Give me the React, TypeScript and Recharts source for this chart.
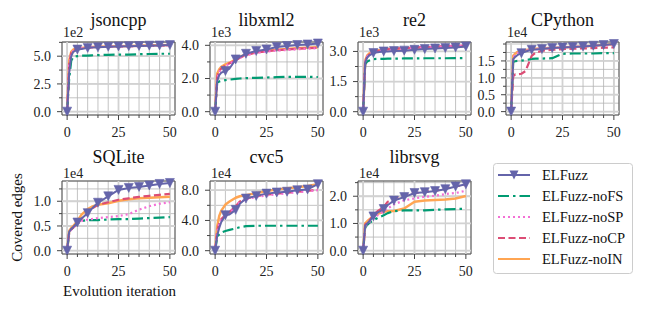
import React from 'react';
import { LineChart, Line, XAxis, YAxis, CartesianGrid, ReferenceLine, ReferenceArea } from 'recharts';

const FONT = '"Liberation Serif", "DejaVu Serif", serif';

// iterations sampled from the curves (0..50)
const iterations = [0, 1, 2, 3, 5, 7, 10, 12, 15, 20, 25, 30, 35, 40, 45, 50];

// jsoncpp (x1e2)
const jsoncppELFuzz = [0, 3.5, 5.0, 5.4, 5.6, 5.65, 5.75, 5.78, 5.8, 5.85, 5.88, 5.9, 5.92, 5.95, 5.97, 6.0];
const jsoncppNoFS = [0, 3.0, 4.6, 4.95, 5.0, 5.05, 5.05, 5.08, 5.1, 5.12, 5.15, 5.15, 5.18, 5.2, 5.22, 5.22];
const jsoncppNoSP = [0, 4.2, 5.2, 5.5, 5.65, 5.7, 5.78, 5.8, 5.82, 5.85, 5.88, 5.9, 5.92, 5.93, 5.95, 5.97];
const jsoncppNoCP = [0, 4.3, 5.3, 5.5, 5.65, 5.72, 5.78, 5.8, 5.82, 5.85, 5.88, 5.9, 5.92, 5.94, 5.96, 5.98];
const jsoncppNoIN = [0, 4.6, 5.4, 5.6, 5.7, 5.75, 5.8, 5.82, 5.85, 5.88, 5.9, 5.92, 5.94, 5.96, 5.98, 6.0];

// libxml2 (x1e3)
const libxml2ELFuzz = [0, 1.85, 2.2, 2.35, 2.45, 2.6, 3.15, 3.3, 3.49, 3.66, 3.75, 3.9, 3.96, 4.02, 4.05, 4.11];
const libxml2NoFS = [0, 1.75, 1.82, 1.86, 1.9, 1.93, 1.98, 2.0, 2.02, 2.04, 2.06, 2.08, 2.1, 2.1, 2.1, 2.09];
const libxml2NoSP = [0, 2.0, 2.4, 2.55, 2.75, 2.9, 3.1, 3.25, 3.4, 3.55, 3.62, 3.68, 3.72, 3.76, 3.8, 3.83];
const libxml2NoCP = [0, 2.1, 2.45, 2.6, 2.8, 2.92, 3.1, 3.25, 3.42, 3.56, 3.64, 3.7, 3.75, 3.79, 3.82, 3.85];
const libxml2NoIN = [0, 2.3, 2.55, 2.7, 2.85, 2.95, 3.15, 3.3, 3.45, 3.6, 3.68, 3.74, 3.78, 3.82, 3.85, 3.88];

// re2 (x1e3)
const re2ELFuzz = [0, 2.45, 2.7, 2.8, 2.92, 2.96, 3.0, 3.0, 3.02, 3.04, 3.08, 3.12, 3.15, 3.17, 3.2, 3.25];
const re2NoFS = [0, 2.35, 2.5, 2.55, 2.62, 2.63, 2.63, 2.64, 2.64, 2.65, 2.65, 2.66, 2.66, 2.66, 2.67, 2.67];
const re2NoSP = [0, 2.5, 2.75, 2.85, 2.98, 3.03, 3.08, 3.1, 3.12, 3.15, 3.18, 3.2, 3.22, 3.24, 3.26, 3.28];
const re2NoCP = [0, 2.5, 2.75, 2.85, 2.97, 3.02, 3.08, 3.1, 3.13, 3.16, 3.19, 3.22, 3.24, 3.26, 3.28, 3.3];
const re2NoIN = [0, 2.55, 2.8, 2.9, 3.0, 3.05, 3.1, 3.12, 3.14, 3.16, 3.18, 3.2, 3.22, 3.24, 3.25, 3.27];

// CPython (x1e4)
const cpythonELFuzz = [0, 1.55, 1.62, 1.67, 1.73, 1.78, 1.83, 1.84, 1.85, 1.88, 1.9, 1.91, 1.93, 1.95, 1.97, 2.0];
const cpythonNoFS = [0, 1.47, 1.49, 1.5, 1.51, 1.52, 1.56, 1.57, 1.57, 1.58, 1.71, 1.72, 1.72, 1.72, 1.73, 1.73];
const cpythonNoSP = [0, 1.6, 1.68, 1.73, 1.78, 1.8, 1.84, 1.85, 1.86, 1.88, 1.9, 1.91, 1.93, 1.95, 1.96, 1.98];
const cpythonNoCP = [0, 1.05, 1.1, 1.1, 1.12, 1.2, 1.65, 1.75, 1.8, 1.83, 1.85, 1.86, 1.87, 1.88, 1.89, 1.9];
const cpythonNoIN = [0, 1.65, 1.72, 1.76, 1.8, 1.82, 1.85, 1.86, 1.87, 1.89, 1.9, 1.92, 1.93, 1.95, 1.97, 1.99];

// SQLite (x1e4)
const sqliteELFuzz = [0, 0.38, 0.44, 0.48, 0.57, 0.65, 0.76, 0.85, 0.97, 1.1, 1.23, 1.27, 1.29, 1.32, 1.35, 1.37];
const sqliteNoFS = [0, 0.37, 0.43, 0.47, 0.55, 0.6, 0.62, 0.62, 0.62, 0.63, 0.64, 0.64, 0.65, 0.66, 0.67, 0.68];
const sqliteNoSP = [0, 0.37, 0.43, 0.47, 0.55, 0.6, 0.63, 0.64, 0.66, 0.68, 0.7, 0.74, 0.83, 0.9, 0.95, 0.98];
const sqliteNoCP = [0, 0.38, 0.43, 0.47, 0.55, 0.64, 0.76, 0.85, 0.93, 0.98, 1.03, 1.06, 1.09, 1.11, 1.13, 1.15];
const sqliteNoIN = [0, 0.4, 0.46, 0.5, 0.6, 0.73, 0.84, 0.89, 0.93, 0.96, 1.01, 1.04, 1.06, 1.07, 1.08, 1.09];

// cvc5 (x1e4)
const cvc5ELFuzz = [0, 2.0, 3.0, 3.8, 4.7, 4.8, 5.4, 6.2, 6.9, 7.25, 7.55, 7.7, 7.8, 8.0, 8.1, 8.8];
const cvc5NoFS = [0, 1.8, 2.2, 2.4, 2.6, 2.75, 2.95, 3.1, 3.25, 3.3, 3.3, 3.3, 3.3, 3.3, 3.3, 3.3];
const cvc5NoSP = [0, 2.5, 3.5, 4.1, 4.6, 5.0, 5.8, 6.4, 6.8, 7.1, 7.3, 7.45, 7.6, 7.75, 7.85, 8.0];
const cvc5NoCP = [0, 2.6, 3.6, 4.2, 4.7, 5.1, 5.9, 6.5, 6.9, 7.2, 7.4, 7.55, 7.65, 7.8, 7.9, 8.1];
const cvc5NoIN = [0, 3.2, 4.6, 5.3, 6.1, 6.5, 7.0, 7.2, 7.35, 7.6, 7.9, 8.1, 8.25, 8.4, 8.55, 8.78];

// librsvg (x1e4)
const librsvgELFuzz = [0, 0.92, 1.0, 1.08, 1.26, 1.4, 1.53, 1.68, 1.84, 1.97, 2.12, 2.15, 2.19, 2.26, 2.36, 2.44];
const librsvgNoFS = [0, 0.85, 0.95, 1.02, 1.12, 1.2, 1.3, 1.38, 1.45, 1.48, 1.48, 1.48, 1.5, 1.52, 1.53, 1.54];
const librsvgNoSP = [0, 0.9, 0.98, 1.05, 1.2, 1.3, 1.45, 1.55, 1.7, 1.85, 1.92, 1.98, 2.02, 2.08, 2.12, 2.2];
const librsvgNoCP = [0, 0.95, 1.03, 1.1, 1.3, 1.45, 1.6, 1.8, 1.9, 2.05, 2.12, 2.16, 2.2, 2.28, 2.36, 2.42];
const librsvgNoIN = [0, 1.0, 1.08, 1.15, 1.28, 1.35, 1.43, 1.45, 1.46, 1.55, 1.8, 1.84, 1.86, 1.88, 1.92, 2.01];

const PURPLE = '#6464AA';

// draw order: bottom -> top
const seriesStyles = [
  { key: 'noIN', color: '#FFA552', width: 2.5, dash: undefined as string | undefined },
  { key: 'noFS', color: '#009B72', width: 2.2, dash: '11 4 2.5 4' },
  { key: 'noCP', color: '#DC4D75', width: 2.2, dash: '7 3.5' },
  { key: 'noSP', color: '#F46FD6', width: 2.2, dash: '2 3' },
  { key: 'ELFuzz', color: PURPLE, width: 2, dash: undefined as string | undefined },
];

const legendItems = [
  { key: 'ELFuzz', label: 'ELFuzz' },
  { key: 'noFS', label: 'ELFuzz-noFS' },
  { key: 'noSP', label: 'ELFuzz-noSP' },
  { key: 'noCP', label: 'ELFuzz-noCP' },
  { key: 'noIN', label: 'ELFuzz-noIN' },
];

const xTicks = [0, 5, 10, 15, 20, 25, 30, 35, 40, 45, 50];
const xMajor = [0, 25, 50];

const PW = 113;
const PH = 73;
const TOP_PAD = 10;

type Panel = {
  name: string;
  exp: string;
  left: number;
  top: number;
  domain: [number, number];
  major: number[];
  minor: number[];
  s: number[][]; // ELFuzz, noFS, noSP, noCP, noIN
};

const panels: Panel[] = [
  { name: 'jsoncpp', exp: '1e2', left: 62, top: 42, domain: [-0.3, 6.28], major: [0, 2.5, 5], minor: [0, 1.25, 2.5, 3.75, 5, 6.25],
    s: [jsoncppELFuzz, jsoncppNoFS, jsoncppNoSP, jsoncppNoCP, jsoncppNoIN] },
  { name: 'libxml2', exp: '1e3', left: 210, top: 42, domain: [-0.2, 4.2], major: [0, 2, 4], minor: [0, 1, 2, 3, 4],
    s: [libxml2ELFuzz, libxml2NoFS, libxml2NoSP, libxml2NoCP, libxml2NoIN] },
  { name: 're2', exp: '1e3', left: 358, top: 42, domain: [-0.165, 3.47], major: [0, 1.5, 3], minor: [0, 0.75, 1.5, 2.25, 3],
    s: [re2ELFuzz, re2NoFS, re2NoSP, re2NoCP, re2NoIN] },
  { name: 'CPython', exp: '1e4', left: 506, top: 42, domain: [-0.1, 2.06], major: [0, 0.5, 1, 1.5], minor: [0, 0.25, 0.5, 0.75, 1, 1.25, 1.5, 1.75, 2],
    s: [cpythonELFuzz, cpythonNoFS, cpythonNoSP, cpythonNoCP, cpythonNoIN] },
  { name: 'SQLite', exp: '1e4', left: 62, top: 181, domain: [-0.067, 1.41], major: [0, 0.5, 1], minor: [0, 0.25, 0.5, 0.75, 1, 1.25],
    s: [sqliteELFuzz, sqliteNoFS, sqliteNoSP, sqliteNoCP, sqliteNoIN] },
  { name: 'cvc5', exp: '1e4', left: 210, top: 181, domain: [-0.44, 9.22], major: [0, 4, 8], minor: [0, 2, 4, 6, 8],
    s: [cvc5ELFuzz, cvc5NoFS, cvc5NoSP, cvc5NoCP, cvc5NoIN] },
  { name: 'librsvg', exp: '1e4', left: 358, top: 181, domain: [-0.122, 2.56], major: [0, 1, 2], minor: [0, 0.5, 1, 1.5, 2, 2.5],
    s: [librsvgELFuzz, librsvgNoFS, librsvgNoSP, librsvgNoCP, librsvgNoIN] },
];

const isIn = (arr: number[], v: number) => arr.some((m) => Math.abs(m - v) < 1e-9);

const textStyle = { fontFamily: FONT };

const YTick = (p: any) => {
  const { x, y, payload, major } = p;
  const major_ = isIn(major, payload.value);
  const x0 = x + 11;
  return (
    <g>
      <line x1={x0} x2={x0 - (major_ ? 5 : 3)} y1={y} y2={y} stroke="#444" strokeWidth={1} />
      {major_ && (
        <text x={x} y={y} dy="0.35em" textAnchor="end" style={textStyle} fontSize={14} fill="#222">
          {payload.value.toFixed(1)}
        </text>
      )}
    </g>
  );
};

const XTick = (p: any) => {
  const { x, y, payload } = p;
  const major_ = isIn(xMajor, payload.value);
  const y0 = y - 12;
  return (
    <g>
      <line x1={x} x2={x} y1={y0} y2={y0 + (major_ ? 5 : 3)} stroke="#444" strokeWidth={1} />
      {major_ && (
        <text x={x} y={y} dy="0.71em" textAnchor="middle" style={textStyle} fontSize={14} fill="#222">
          {payload.value}
        </text>
      )}
    </g>
  );
};

const TriDot = (p: any) => {
  const { cx, cy, payload, index } = p;
  if (cx == null || cy == null || payload.it % 5 !== 0) return <g key={`t${index}`} />;
  const s = 4.5;
  return (
    <polygon
      key={`t${index}`}
      points={`${cx - s},${cy - s} ${cx + s},${cy - s} ${cx},${cy + s}`}
      fill={PURPLE}
      stroke={PURPLE}
      strokeWidth={0.6}
    />
  );
};

const PanelChart = ({ panel }: { panel: Panel }) => {
  const [elf, nofs, nosp, nocp, noin] = panel.s;
  const rows = iterations.map((it, i) => ({
    it,
    ELFuzz: elf[i],
    noFS: nofs[i],
    noSP: nosp[i],
    noCP: nocp[i],
    noIN: noin[i],
  }));
  return (
    <div style={{ position: 'absolute', left: panel.left - 40, top: panel.top - TOP_PAD }}>
      <LineChart width={40 + PW + 2} height={TOP_PAD + PH + 28} data={rows} margin={{ top: TOP_PAD, right: 2, bottom: 0, left: 0 }}>
        <CartesianGrid stroke="#b4b4b4" strokeWidth={0.8} />
        {xMajor.map((v) => (
          <ReferenceLine key={`vx${v}`} x={v} stroke="#d2d2d2" strokeWidth={1.8} />
        ))}
        {panel.major.map((v) => (
          <ReferenceLine key={`hy${v}`} y={v} stroke="#d2d2d2" strokeWidth={1.8} />
        ))}
        <XAxis
          dataKey="it"
          type="number"
          domain={[-2.5, 52.5]}
          ticks={xTicks}
          interval={0}
          axisLine={false}
          tickLine={false}
          tickSize={5}
          tickMargin={7}
          height={28}
          tick={(p: any) => <XTick {...p} />}
        />
        <YAxis
          type="number"
          domain={panel.domain}
          ticks={panel.minor}
          interval={0}
          axisLine={false}
          tickLine={false}
          tickSize={5}
          tickMargin={6}
          width={40}
          tick={(p: any) => <YTick {...p} major={panel.major} />}
        />
        <ReferenceArea
          x1={-2.5}
          x2={52.5}
          y1={panel.domain[0]}
          y2={panel.domain[1]}
          fill="none"
          stroke="#555"
          strokeWidth={1}
          ifOverflow="visible"
        />
        {seriesStyles.map((st) => (
          <Line
            key={st.key}
            dataKey={st.key}
            stroke={st.color}
            strokeWidth={st.width}
            strokeDasharray={st.dash}
            strokeLinejoin="round"
            dot={st.key === 'ELFuzz' ? (p: any) => <TriDot key={`d${p.index}`} {...p} /> : false}
            activeDot={false}
            isAnimationActive={false}
          />
        ))}
      </LineChart>
    </div>
  );
};

const Overlay = () => {
  const legendRowY = (i: number) => 175 + 21 * i;
  return (
    <svg width={645} height={312} style={{ position: 'absolute', left: 0, top: 0, pointerEvents: 'none' }}>
      {panels.map((p) => (
        <g key={p.name}>
          <text x={p.left + PW / 2} y={p.top === 42 ? 26 : 163} textAnchor="middle" style={textStyle} fontSize={18} fill="#111">
            {p.name}
          </text>
          <text x={p.left + 1} y={p.top === 42 ? 37 : 177.5} style={textStyle} fontSize={14} fill="#222">
            {p.exp}
          </text>
        </g>
      ))}
      <text x={119.5} y={296} textAnchor="middle" style={textStyle} fontSize={15} fill="#111">
        Evolution iteration
      </text>
      <text x={21.5} y={217.5} transform="rotate(-90 21.5 217.5)" textAnchor="middle" style={textStyle} fontSize={15} fill="#111">
        Covered edges
      </text>
      <rect x={493.5} y={163.5} width={139} height={110} rx={3} fill="#fff" fillOpacity={0.85} stroke="#cccccc" strokeWidth={1} />
      {legendItems.map((item, i) => {
        const st = seriesStyles.find((s) => s.key === item.key)!;
        const y = legendRowY(i);
        return (
          <g key={item.key}>
            <line x1={498} x2={530} y1={y} y2={y} stroke={st.color} strokeWidth={item.key === 'noIN' ? 2 : st.width} strokeDasharray={st.dash} />
            {item.key === 'ELFuzz' && (
              <polygon points={`${514 - 4.5},${y - 4.5} ${514 + 4.5},${y - 4.5} ${514},${y + 4.5}`} fill={PURPLE} />
            )}
            <text x={542} y={y} dy="0.35em" style={textStyle} fontSize={14.5} fill="#111">
              {item.label}
            </text>
          </g>
        );
      })}
    </svg>
  );
}

export default function App() {
  return (
    <div style={{ position: 'absolute', left: 0, top: 0, width: 645, height: 312, background: '#fff', overflow: 'hidden' }}>
      {panels.map((p) => (
        <PanelChart key={p.name} panel={p} />
      ))}
      <Overlay />
    </div>
  );
}
